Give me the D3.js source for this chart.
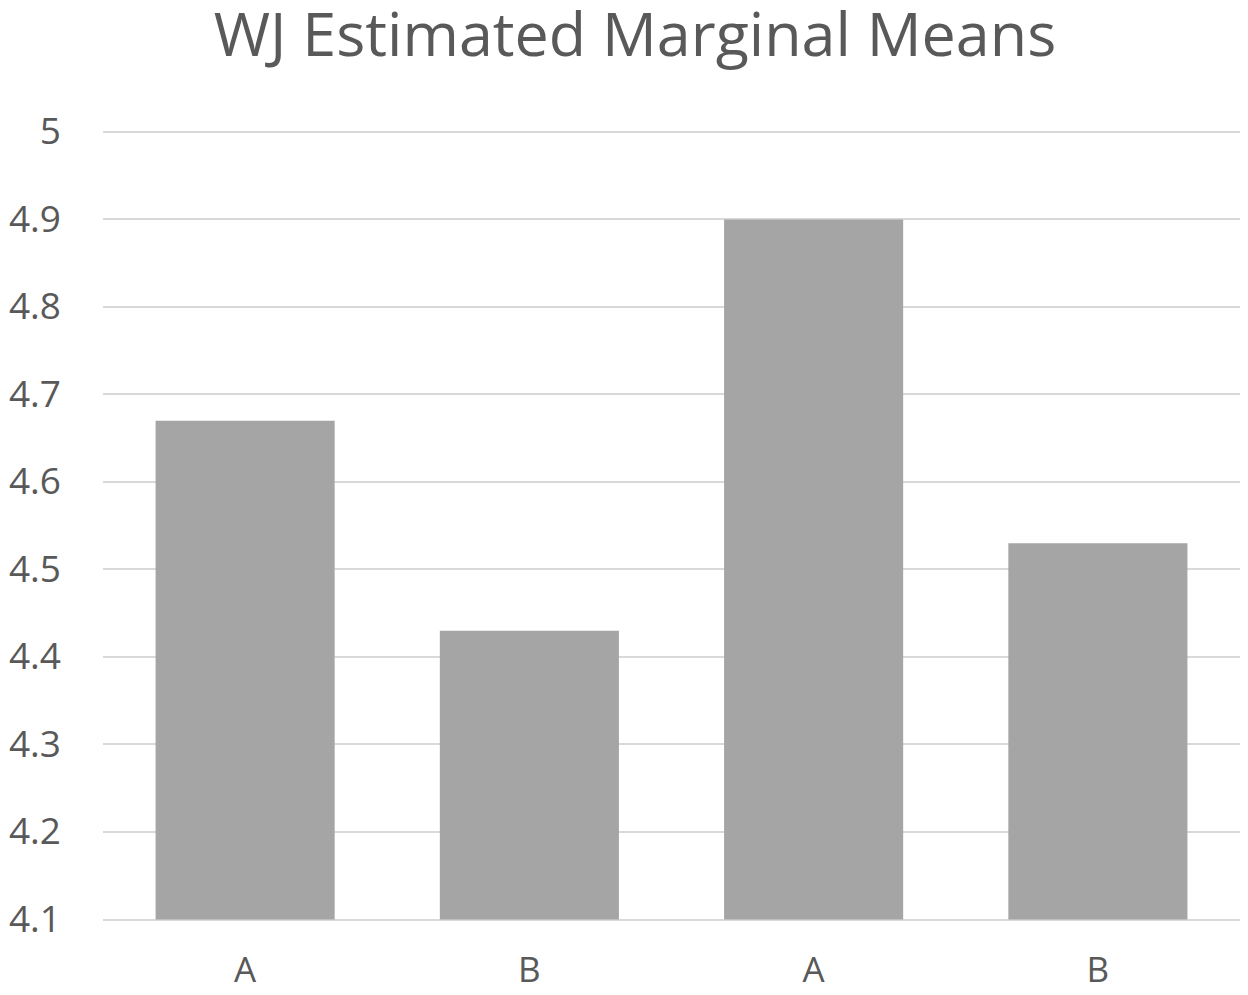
<!DOCTYPE html>
<html>
<head>
<meta charset="utf-8">
<script src="https://cdn.jsdelivr.net/npm/d3@7"></script>
<style>
  body { margin: 0; background: #fff; }
  text { font-family: "Open Sans", Lato, sans-serif; fill: #595959; }
</style>
</head>
<body>
<div id="chart"></div>
<script>
// chart data
var categories = ["A", "B", "A", "B"];
var values = [4.67, 4.43, 4.9, 4.53];
var yTicks = [4.1, 4.2, 4.3, 4.4, 4.5, 4.6, 4.7, 4.8, 4.9, 5];
var title = "WJ Estimated Marginal Means";

// set the dimensions and margins of the graph
var margin = {top: 132, right: 8, bottom: 76, left: 103},
    width = 1248 - margin.left - margin.right,
    height = 995 - margin.top - margin.bottom;

var svg = d3.select("#chart")
  .append("svg")
    .attr("width", 1248)
    .attr("height", 995);

var g = svg.append("g")
    .attr("transform", "translate(" + margin.left + "," + margin.top + ")");

// index based band scale, since labels repeat
var x = d3.scaleBand()
  .domain(d3.range(categories.length))
  .range([0, width])
  .paddingInner(0.37)
  .paddingOuter(0.185);

var y = d3.scaleLinear()
  .domain([4.1, 5])
  .range([height + 0.5, 0]);

// gridlines
g.selectAll(".grid")
  .data(yTicks)
  .enter()
  .append("line")
    .attr("x1", 0)
    .attr("x2", width)
    .attr("y1", function(d) { return Math.round(y(d)); })
    .attr("y2", function(d) { return Math.round(y(d)); })
    .style("stroke", "#d9d9d9")
    .style("stroke-width", 2);

// bars
g.selectAll(".bar")
  .data(values)
  .enter()
  .append("rect")
    .attr("x", function(d, i) { return x(i); })
    .attr("width", x.bandwidth())
    .attr("y", function(d) { return y(d); })
    .attr("height", function(d) { return y(4.1) - y(d); })
    .style("fill", "#a5a5a5");

// y axis labels
var yAxis = g.append("g")
  .call(d3.axisLeft(y).tickValues(yTicks).tickFormat(d3.format("")).tickSize(0).tickPadding(42));
yAxis.select(".domain").remove();
yAxis.selectAll("text")
  .style("font-size", "37px")
  .style("fill", "#595959")
  .style("font-family", "'Open Sans', sans-serif");

// x axis labels
var xAxis = g.append("g")
  .attr("transform", "translate(0," + height + ")")
  .call(d3.axisBottom(x).tickFormat(function(i) { return categories[i]; }).tickSize(0).tickPadding(38));
xAxis.select(".domain").remove();
xAxis.selectAll("text")
  .style("font-size", "35px")
  .style("fill", "#595959")
  .style("font-family", "'Open Sans', sans-serif");

// title
svg.append("text")
  .attr("x", 635)
  .attr("y", 56)
  .attr("text-anchor", "middle")
  .style("font-size", "61px")
  .text(title);
</script>
</body>
</html>
